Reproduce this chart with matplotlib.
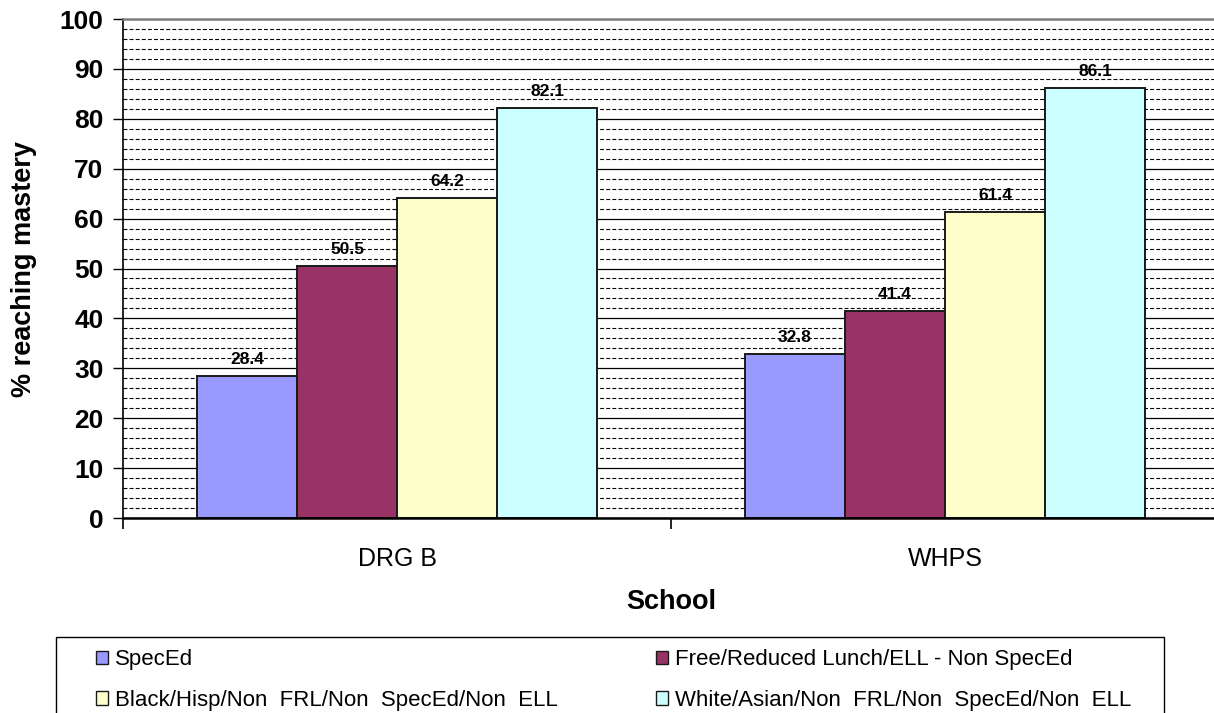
import numpy as np
import matplotlib.pyplot as plt
from matplotlib.patches import Rectangle, Patch

plt.rcParams['font.family'] = ['Liberation Sans', 'DejaVu Sans']

# data
schools = ['DRG B', 'WHPS']
groups = ['SpecEd',
          'Free/Reduced Lunch/ELL - Non SpecEd',
          'Black/Hisp/Non  FRL/Non  SpecEd/Non  ELL',
          'White/Asian/Non  FRL/Non  SpecEd/Non  ELL']
speced = [28.4, 32.8]
frl_ell = [50.5, 41.4]
black_hisp = [64.2, 61.4]
white_asian = [82.1, 86.1]
colors = ['#9999FF', '#993366', '#FFFFCC', '#CCFFFF']

W, H = 1214, 713
fig = plt.figure(figsize=(W / 100, H / 100), dpi=100)
# plot area runs a little past the right edge of the canvas
ax = fig.add_axes([123 / W, 1 - 518 / H, 1096 / W, 499 / H])

series = [speced, frl_ell, black_hisp, white_asian]
x = np.arange(len(schools))
bw = 0.1825
for i, (vals, c, name) in enumerate(zip(series, colors, groups)):
    pos = x + (i - 1.5) * bw
    bars = ax.bar(pos, vals, bw, color=c, edgecolor='#1a1a1a', linewidth=1.4,
                  label=name, zorder=3)
    for b, v in zip(bars, vals):
        ax.annotate(f'{v:.1f}', (b.get_x() + b.get_width() / 2, v),
                    xytext=(0, 6.5), textcoords='offset points',
                    ha='center', va='bottom', fontsize=12.5,
                    fontweight='bold', zorder=4)

ax.set_xlim(-0.5, 1.5)
ax.set_ylim(0, 100)

# gridlines: solid every 10, dashed every 2
ax.set_yticks(np.arange(0, 101, 10))
ax.set_yticks(np.arange(0, 101, 2), minor=True)
ax.grid(axis='y', which='major', color='black', linewidth=0.9, zorder=1)
ax.grid(axis='y', which='minor', color='black', linewidth=0.8,
        linestyle=(0, (3.5, 2)), zorder=1)
ax.tick_params(axis='y', which='minor', length=0)
ax.tick_params(axis='y', which='major', length=7, width=1, pad=7,
               labelsize=19)
for lab in ax.get_yticklabels():
    lab.set_fontweight('bold')

# category boundaries get the tick marks, names sit in between
ax.set_xticks([-0.5, 0.5, 1.5])
ax.set_xticklabels([])
ax.set_xticks(x, minor=True)
ax.set_xticklabels(schools, minor=True, fontsize=18)
ax.tick_params(axis='x', which='major', length=8, width=1.2, direction='out')
ax.tick_params(axis='x', which='minor', length=0, pad=21)

ax.spines['top'].set_color('#808080')
ax.spines['top'].set_linewidth(1.8)
ax.spines['right'].set_visible(False)
ax.spines['left'].set_linewidth(1.2)
ax.spines['bottom'].set_linewidth(1.8)
for s in ('top', 'left', 'bottom'):
    ax.spines[s].set_zorder(5)

ax.set_xlabel('School', fontsize=19.5, fontweight='bold', labelpad=13)
ax.set_ylabel('% reaching mastery', fontsize=19.5, fontweight='bold', labelpad=16)

# legend box, running off the bottom edge
fig.patches.append(Rectangle((56 / W, -0.05), (1164 - 56) / W, 1.05 - 637 / H,
                             transform=fig.transFigure, facecolor='white',
                             edgecolor='black', linewidth=1.0, zorder=-1))
# row-wise order in a two-column legend
order = [0, 2, 1, 3]
handles = [Patch(facecolor=colors[k], edgecolor='#1a1a1a', linewidth=1.0) for k in order]
labels = [groups[k] for k in order]
leg = fig.legend(handles, labels, ncol=2, mode='expand', loc='center',
                 bbox_to_anchor=(96 / W, 1 - 680 / H - 0.02, (1131 - 96) / W, 0.04),
                 frameon=False, fontsize=16, borderpad=0, borderaxespad=0,
                 handlelength=0.55, handleheight=0.55, handletextpad=0.3,
                 labelspacing=0.88, columnspacing=0.5)

fig.savefig('out.png', dpi=100)
